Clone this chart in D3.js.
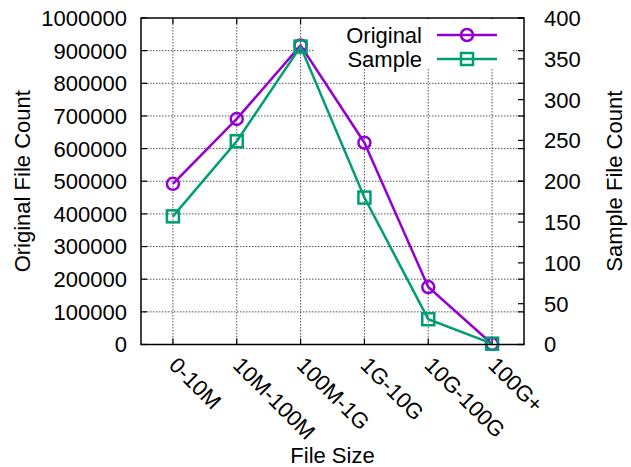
<!DOCTYPE html>
<html>
<head>
<meta charset="utf-8">
<script src="https://cdn.jsdelivr.net/npm/d3@7"></script>
<style>
  body { margin: 0; background: #fff; }
  svg text { font-family: "Liberation Sans", Arial, sans-serif; font-size: 22px; fill: #000; }
</style>
</head>
<body>
<div id="chart"></div>
<script>
// File size buckets and counts
const categories = ["0-10M", "10M-100M", "100M-1G", "1G-10G", "10G-100G", "100G+"];
const originalCounts = [492000, 691000, 916000, 618000, 176000, 1500];
const sampleCounts = [157, 249, 365, 180, 31, 1];
const leftTicks = d3.range(0, 1000001, 100000);
const rightTicks = d3.range(0, 401, 50);

const W = 631, H = 467;
const plot = { left: 141, top: 18, right: 524, bottom: 344.5 };
const colors = { original: "#9400d3", sample: "#009e73" };

const svg = d3.select("#chart").append("svg")
    .attr("width", W)
    .attr("height", H);

const x = d3.scalePoint()
    .domain(categories)
    .range([plot.left, plot.right])
    .padding(0.5);
const yLeft = d3.scaleLinear().domain([0, 1000000]).range([plot.bottom, plot.top]);
const yRight = d3.scaleLinear().domain([0, 400]).range([plot.bottom, plot.top]);

// grid
const grid = svg.append("g")
    .attr("stroke", "#555")
    .attr("stroke-width", 1)
    .attr("stroke-dasharray", "1.5,1.5");
grid.selectAll("line.h")
    .data(leftTicks.slice(1, -1))
    .join("line")
    .attr("x1", plot.left).attr("x2", plot.right)
    .attr("y1", d => yLeft(d)).attr("y2", d => yLeft(d));
grid.selectAll("line.v")
    .data(categories)
    .join("line")
    .attr("x1", d => x(d)).attr("x2", d => x(d))
    .attr("y1", plot.top).attr("y2", plot.bottom);

// ticks (inward, gnuplot style)
const ticks = svg.append("g").attr("stroke", "#000").attr("stroke-width", 1.2);
const tl = 6;
leftTicks.forEach(v => {
    ticks.append("line").attr("x1", plot.left).attr("x2", plot.left + tl)
        .attr("y1", yLeft(v)).attr("y2", yLeft(v));
    ticks.append("line").attr("x1", plot.right).attr("x2", plot.right - tl)
        .attr("y1", yLeft(v)).attr("y2", yLeft(v));
});
rightTicks.forEach(v => {
    ticks.append("line").attr("x1", plot.right).attr("x2", plot.right - tl)
        .attr("y1", yRight(v)).attr("y2", yRight(v));
});
categories.forEach(c => {
    ticks.append("line").attr("x1", x(c)).attr("x2", x(c))
        .attr("y1", plot.bottom).attr("y2", plot.bottom - tl);
    ticks.append("line").attr("x1", x(c)).attr("x2", x(c))
        .attr("y1", plot.top).attr("y2", plot.top + tl);
});

// tick labels
svg.append("g").selectAll("text")
    .data(leftTicks)
    .join("text")
    .attr("x", plot.left - 14)
    .attr("y", d => yLeft(d))
    .attr("dy", "0.36em")
    .attr("text-anchor", "end")
    .text(d => d);

svg.append("g").selectAll("text")
    .data(rightTicks)
    .join("text")
    .attr("x", plot.right + 20)
    .attr("y", d => yRight(d))
    .attr("dy", "0.36em")
    .attr("text-anchor", "start")
    .text(d => d);

svg.append("g").selectAll("text")
    .data(categories)
    .join("text")
    .attr("transform", d => `translate(${x(d) + 6},${plot.bottom + 11}) rotate(45)`)
    .attr("dy", "0.71em")
    .attr("text-anchor", "start")
    .text(d => d);

// axis titles
svg.append("text")
    .attr("x", (plot.left + plot.right) / 2)
    .attr("y", 463)
    .attr("text-anchor", "middle")
    .text("File Size");

svg.append("text")
    .attr("transform", `translate(30,${(plot.top + plot.bottom) / 2}) rotate(-90)`)
    .attr("text-anchor", "middle")
    .text("Original File Count");

svg.append("text")
    .attr("transform", `translate(622,${(plot.top + plot.bottom) / 2}) rotate(-90)`)
    .attr("text-anchor", "middle")
    .text("Sample File Count");

// legend background hides grid
svg.append("rect")
    .attr("x", 315).attr("y", plot.top + 1)
    .attr("width", 197).attr("height", 50)
    .attr("fill", "#fff");

// series
function drawSeries(values, scale, color, marker) {
    const line = d3.line()
        .x((d, i) => x(categories[i]))
        .y(d => scale(d));
    svg.append("path")
        .datum(values)
        .attr("fill", "none")
        .attr("stroke", color)
        .attr("stroke-width", 2.5)
        .attr("d", line);
    drawMarkers(svg.append("g"), values.map((v, i) => [x(categories[i]), scale(v)]), color, marker);
}

function drawMarkers(g, pts, color, marker) {
    if (marker === "circle") {
        g.selectAll("circle")
            .data(pts)
            .join("circle")
            .attr("cx", d => d[0]).attr("cy", d => d[1])
            .attr("r", 6)
            .attr("fill", "none")
            .attr("stroke", color)
            .attr("stroke-width", 2.5);
    } else {
        g.selectAll("rect")
            .data(pts)
            .join("rect")
            .attr("x", d => d[0] - 6).attr("y", d => d[1] - 6)
            .attr("width", 12).attr("height", 12)
            .attr("fill", "none")
            .attr("stroke", color)
            .attr("stroke-width", 2.5);
    }
}

drawSeries(originalCounts, yLeft, colors.original, "circle");
drawSeries(sampleCounts, yRight, colors.sample, "square");

// legend
const legendItems = [
    { name: "Original", color: colors.original, marker: "circle", y: 35 },
    { name: "Sample", color: colors.sample, marker: "square", y: 59 }
];
legendItems.forEach(it => {
    svg.append("text")
        .attr("x", 422).attr("y", it.y)
        .attr("dy", "0.36em")
        .attr("text-anchor", "end")
        .text(it.name);
    svg.append("line")
        .attr("x1", 437).attr("x2", 497)
        .attr("y1", it.y).attr("y2", it.y)
        .attr("stroke", it.color)
        .attr("stroke-width", 2.5);
    drawMarkers(svg.append("g"), [[467, it.y]], it.color, it.marker);
});

// frame
svg.append("rect")
    .attr("x", plot.left).attr("y", plot.top)
    .attr("width", plot.right - plot.left)
    .attr("height", plot.bottom - plot.top)
    .attr("fill", "none")
    .attr("stroke", "#000")
    .attr("stroke-width", 1.5);
</script>
</body>
</html>
